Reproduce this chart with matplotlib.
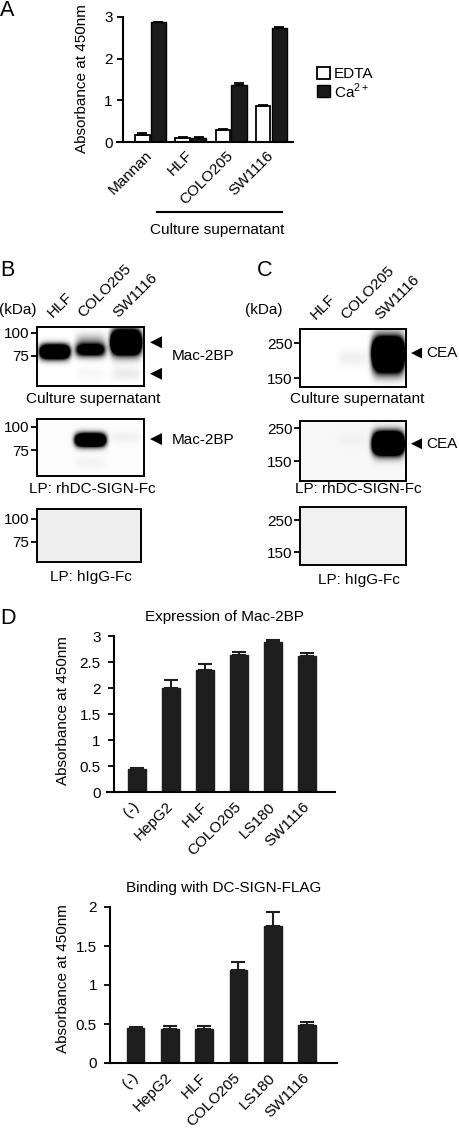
import numpy as np
import matplotlib
matplotlib.use('Agg')
import matplotlib.pyplot as plt
from matplotlib.patches import Polygon, Rectangle
from matplotlib.lines import Line2D
from matplotlib.ticker import NullLocator
from matplotlib.transforms import blended_transform_factory

plt.rcParams['font.family'] = ['Liberation Sans', 'DejaVu Sans']
plt.rcParams['mathtext.fontset'] = 'custom'
plt.rcParams['mathtext.rm'] = 'Liberation Sans'

# ---------------- data ----------------
# Panel A
a_groups = ['Mannan', 'HLF', 'COLO205', 'SW1116']
a_edta = [0.18, 0.10, 0.28, 0.86]
a_edta_err = [0.03, 0.02, 0.03, 0.02]
a_ca = [2.87, 0.10, 1.38, 2.73]
a_ca_err = [0.02, 0.02, 0.03, 0.02]
a_yticks = [0, 1, 2, 3]
a_yticklabels = ['0', '1', '2', '3']

# Panel D
d_cells = ['(-)', 'HepG2', 'HLF', 'COLO205', 'LS180', 'SW1116']
d_expr = [0.44, 2.00, 2.35, 2.63, 2.88, 2.62]
d_expr_err = [0.02, 0.15, 0.11, 0.06, 0.04, 0.05]
d_expr_yticks = [0, 0.5, 1, 1.5, 2, 2.5, 3]
d_expr_yticklabels = ['0', '0.5', '1', '1.5', '2', '2.5', '3']
d_bind = [0.45, 0.44, 0.43, 1.19, 1.76, 0.49]
d_bind_err = [0.01, 0.04, 0.04, 0.11, 0.18, 0.04]
d_bind_yticks = [0, 0.5, 1, 1.5, 2]
d_bind_yticklabels = ['0', '0.5', '1', '1.5', '2']

# Blots (lane index 1..3, band kDa, relative intensity)
blot_lanes = ['HLF', 'COLO205', 'SW1116']
b_ticks = [75, 100]
b_ticklabels = ['75', '100']
c_ticks = [150, 250]
c_ticklabels = ['150', '250']

b1_lane = [1, 2, 2, 3, 2, 3]
b1_kda = [79, 81, 92, 89, 60, 60]
b1_amp = [3.0, 1.6, 0.25, 4.0, 0.035, 0.08]
b2_lane = [2, 3, 2]
b2_kda = [85, 88, 64]
b2_amp = [3.0, 0.05, 0.04]
b3_lane = []
b3_kda = []
b3_amp = []
c1_lane = [3, 3, 2]
c1_kda = [216, 170, 200]
c1_amp = [4.0, 0.45, 0.06]
c2_lane = [3, 3, 2]
c2_kda = [195, 228, 210]
c2_amp = [4.0, 0.35, 0.03]
c3_lane = []
c3_kda = []
c3_amp = []

# ---------------- layout ----------------
W, H = 459, 1128
FS = 11
fig = plt.figure(figsize=(W / 100, H / 100), dpi=100)


def ax_px(l, t, r, b):
    return fig.add_axes([l / W, 1 - b / H, (r - l) / W, (b - t) / H])


def style_bar_axes(ax, yticks, yticklabels, spine_x, padx):
    for s in ['top', 'right']:
        ax.spines[s].set_visible(False)
    ax.spines['left'].set_position(('data', spine_x))
    ax.spines['left'].set_linewidth(1.5)
    ax.spines['bottom'].set_linewidth(1.5)
    ax.set_yticks(yticks)
    ax.set_yticklabels(yticklabels, fontsize=FS)
    ax.tick_params(axis='y', direction='out', length=4.5, width=1.3, pad=padx)
    ax.tick_params(axis='x', length=0, pad=3)


# Panel A
axA = ax_px(117, 17, 293, 142)
xa = np.arange(len(a_groups))
axA.bar(xa - 0.2, a_edta, 0.36, color='white', edgecolor='black', linewidth=1.3, zorder=2)
axA.bar(xa + 0.2, a_ca, 0.38, color='#1b1b1b', edgecolor='black', linewidth=1.0, zorder=2)
axA.errorbar(xa - 0.2, a_edta, yerr=[np.zeros(4), a_edta_err], fmt='none', ecolor='black',
             capsize=3.5, elinewidth=1.3, capthick=1.3, zorder=3)
axA.errorbar(xa + 0.2, a_ca, yerr=[np.zeros(4), a_ca_err], fmt='none', ecolor='black',
             capsize=3.5, elinewidth=1.3, capthick=1.3, zorder=3)
axA.set_xlim(-0.83, 3.54)
axA.set_ylim(0, 3)
style_bar_axes(axA, a_yticks, a_yticklabels, -0.68, 3)
axA.set_xticks(xa)
axA.set_xticklabels(a_groups, rotation=45, ha='right', va='center', rotation_mode='anchor', fontsize=FS)
axA.tick_params(axis='x', pad=8)


def d_panel(rect, vals, errs, xlim, spine_x, ylim, yt, ytl):
    ax = ax_px(*rect)
    x = np.arange(len(d_cells))
    ax.bar(x, vals, 0.52, color='#1e1e1e', edgecolor='#1e1e1e', zorder=2)
    ax.errorbar(x, vals, yerr=[np.zeros(len(vals)), errs], fmt='none', ecolor='#1e1e1e',
                capsize=4.8, elinewidth=1.5, capthick=1.5, zorder=3)
    ax.set_xlim(*xlim)
    ax.set_ylim(*ylim)
    style_bar_axes(ax, yt, ytl, spine_x, 5)
    ax.set_xticks(x)
    ax.set_xticklabels(d_cells, rotation=45, ha='right', va='center', rotation_mode='anchor', fontsize=FS)
    ax.tick_params(axis='x', pad=9)
    return ax


axD1 = d_panel((107, 636, 335, 792), d_expr, d_expr_err, (-0.88, 5.82), -0.68, (0, 3),
               d_expr_yticks, d_expr_yticklabels)
axD2 = d_panel((106, 907, 337, 1063), d_bind, d_bind_err, (-0.86, 5.87), -0.74, (0, 2),
               d_bind_yticks, d_bind_yticklabels)


def blot(rect, lo, hi, ticks, ticklabels, lanes, kdas, amps, bg, wy, wx):
    ax = ax_px(*rect)
    x = np.linspace(0.5, 3.5, 420)
    ly = np.linspace(np.log10(lo), np.log10(hi), 300)
    X, LY = np.meshgrid(x, ly)
    img = np.full_like(X, bg)
    for ln, kd, am in zip(lanes, kdas, amps):
        w = wy * (1.6 if am > 3.5 else 1.0)
        img += am * np.exp(-np.abs((X - ln) / wx) ** 5) * np.exp(-((LY - np.log10(kd)) / w) ** 2)
    img = np.clip(img, 0, 1)
    ax.pcolormesh(x, 10 ** ly, img, cmap='gray_r', vmin=0, vmax=1, shading='auto')
    ax.set_yscale('log')
    ax.set_xlim(0.5, 3.5)
    ax.set_ylim(lo, hi)
    ax.set_yticks(ticks)
    ax.set_yticklabels(ticklabels, fontsize=FS)
    ax.yaxis.set_minor_locator(NullLocator())
    ax.set_xticks([])
    ax.tick_params(axis='y', direction='out', length=4.5, width=1.3, pad=1)
    for s in ax.spines.values():
        s.set_linewidth(1.4)
    return ax


axB1 = blot((37, 327, 144, 386), 51.5, 107.8, b_ticks, b_ticklabels, b1_lane, b1_kda, b1_amp, 0.0, 0.036, 0.41)
axB2 = blot((37, 419, 144, 476), 54.2, 110.5, b_ticks, b_ticklabels, b2_lane, b2_kda, b2_amp, 0.01, 0.033, 0.42)
axB3 = blot((37, 509, 141, 562), 58.4, 113.0, b_ticks, b_ticklabels, b3_lane, b3_kda, b3_amp, 0.065, 0.03, 0.4)
axC1 = blot((300, 329, 406, 387), 131.6, 307.0, c_ticks, c_ticklabels, c1_lane, c1_kda, c1_amp, 0.0, 0.055, 0.44)
axC2 = blot((300, 421, 406, 481), 110.0, 279.0, c_ticks, c_ticklabels, c2_lane, c2_kda, c2_amp, 0.03, 0.04, 0.43)
axC3 = blot((300, 507, 406, 565), 122.0, 308.0, c_ticks, c_ticklabels, c3_lane, c3_kda, c3_amp, 0.06, 0.05, 0.4)

# lane labels above top blots
lane_dx = [-0.06, -0.2, -0.22]
for ax in (axB1, axC1):
    tr = blended_transform_factory(ax.transData, ax.transAxes)
    for i, name in enumerate(blot_lanes):
        ax.text(i + 1 + lane_dx[i], 1.0 + 9.5 / 59, name, transform=tr, rotation=45,
                ha='left', va='baseline', rotation_mode='anchor', fontsize=FS)

# ---------------- overlay (pixel coords) ----------------
ov = fig.add_axes([0, 0, 1, 1])
ov.set_xlim(0, W)
ov.set_ylim(H, 0)
ov.axis('off')
ov.patch.set_alpha(0)


def T(x, y, s, **kw):
    kw.setdefault('fontsize', FS)
    ov.text(x, y, s, **kw)


def px_y(ax, kda):
    return H - ax.transData.transform((1, kda))[1]


def tri(x_tip, y, w, h):
    ov.add_patch(Polygon([[x_tip, y], [x_tip + w, y - h / 2], [x_tip + w, y + h / 2]],
                         closed=True, color='black', lw=0))


# panel letters
for lab, x, y in [('A', 0, 11), ('B', 0, 270), ('C', 257, 270), ('D', 0, 618)]:
    T(x, y, lab, fontsize=15.5, ha='left', va='center')

# panel A extras
T(82, 79, 'Absorbance at 450nm', rotation=90, ha='center', va='center')
ov.add_patch(Rectangle((317, 67), 13, 12, facecolor='white', edgecolor='black', lw=1.3))
ov.add_patch(Rectangle((317, 85), 13, 12, facecolor='#1b1b1b', edgecolor='black', lw=1.0))
T(334, 73.5, 'EDTA', ha='left', va='center')
T(334, 91.5, r'Ca$^{\mathregular{2+}}$', ha='left', va='center')
ov.add_line(Line2D([157, 282], [212, 212], color='black', lw=1.5))
T(217, 230, 'Culture supernatant', ha='center', va='center')

# blot texts
T(18, 310, '(kDa)', ha='center', va='center')
T(264, 310, '(kDa)', ha='center', va='center')
T(93, 399, 'Culture supernatant', ha='center', va='center')
T(357, 399, 'Culture supernatant', ha='center', va='center')
T(92, 489, 'LP: rhDC-SIGN-Fc', ha='center', va='center')
T(358, 489, 'LP: rhDC-SIGN-Fc', ha='center', va='center')
T(91, 577, 'LP: hIgG-Fc', ha='center', va='center')
T(359, 580, 'LP: hIgG-Fc', ha='center', va='center')

fig.canvas.draw()
yb1a = px_y(axB1, 89)
yb1b = px_y(axB1, 60)
yb2 = px_y(axB2, 86)
yc1 = px_y(axC1, 216)
yc2 = px_y(axC2, 196)
tri(150, yb1a, 12, 12)
tri(150, yb1b, 12, 12)
tri(150, yb2, 12, 12)
tri(411, yc1, 11, 11)
tri(411, yc2, 11, 11)
T(172, (yb1a + yb1b) / 2 - 2, 'Mac-2BP', ha='left', va='center')
T(172, yb2 + 1, 'Mac-2BP', ha='left', va='center')
T(426, yc1, 'CEA', ha='left', va='center')
T(426, yc2, 'CEA', ha='left', va='center')

# panel D extras
T(224, 617, 'Expression of Mac-2BP', ha='center', va='center')
T(224, 888, 'Binding with DC-SIGN-FLAG', ha='center', va='center')
T(63, 711, 'Absorbance at 450nm', rotation=90, ha='center', va='center')
T(63, 979, 'Absorbance at 450nm', rotation=90, ha='center', va='center')

fig.savefig('out.png', dpi=100)
